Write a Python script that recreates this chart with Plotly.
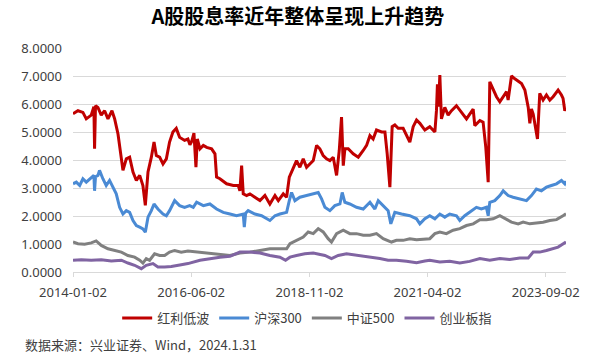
import plotly.graph_objects as go

# ---- data ----
hl_dates = ["2014-01-02","2014-02-08","2014-03-17","2014-04-11","2014-05-18","2014-06-07","2014-06-12","2014-06-19","2014-07-07","2014-08-01","2014-08-26","2014-09-20","2014-10-20","2014-11-09","2014-12-04","2014-12-29","2015-01-10","2015-02-04","2015-03-01","2015-03-26","2015-04-20","2015-05-15","2015-06-08","2015-06-26","2015-07-16","2015-08-10","2015-08-30","2015-09-16","2015-10-11","2015-11-05","2015-11-30","2015-12-24","2016-01-18","2016-02-12","2016-03-08","2016-04-14","2016-05-09","2016-05-24","2016-06-06","2016-06-23","2016-07-08","2016-07-18","2016-08-07","2016-09-01","2016-09-26","2016-11-02","2016-11-27","2016-12-09","2017-01-03","2017-02-22","2017-04-13","2017-05-20","2017-06-01","2017-06-14","2017-06-26","2017-07-21","2017-08-15","2017-09-21","2017-10-29","2017-12-05","2018-01-11","2018-02-18","2018-03-15","2018-04-21","2018-05-16","2018-06-05","2018-07-05","2018-07-29","2018-08-23","2018-09-17","2018-10-12","2018-11-06","2018-12-01","2018-12-26","2019-01-19","2019-02-13","2019-03-10","2019-04-04","2019-04-29","2019-05-24","2019-06-13","2019-06-30","2019-07-13","2019-07-25","2019-08-19","2019-09-25","2019-11-02","2019-12-09","2020-01-03","2020-01-28","2020-02-21","2020-03-17","2020-04-24","2020-05-19","2020-06-05","2020-06-25","2020-07-12","2020-08-01","2020-08-26","2020-10-02","2020-11-21","2020-12-16","2021-01-10","2021-02-04","2021-03-13","2021-04-19","2021-05-27","2021-06-08","2021-06-15","2021-06-23","2021-07-03","2021-07-15","2021-08-09","2021-09-03","2021-09-28","2021-11-04","2021-12-12","2022-01-18","2022-03-09","2022-03-21","2022-04-28","2022-05-22","2022-06-11","2022-06-29","2022-07-11","2022-08-05","2022-08-30","2022-09-24","2022-10-19","2022-11-13","2022-11-25","2022-12-20","2023-01-14","2023-02-08","2023-03-05","2023-03-30","2023-04-24","2023-05-06","2023-05-18","2023-05-31","2023-06-20","2023-07-02","2023-07-19","2023-08-13","2023-09-07","2023-10-02","2023-10-27","2023-12-03","2023-12-28","2024-01-09","2024-01-22","2024-01-31"]
hl_values = [5.65,5.76,5.70,5.47,5.60,5.90,4.40,5.94,5.88,5.60,5.76,5.47,5.76,5.47,4.93,4.10,3.63,4.04,4.10,3.57,3.27,3.45,3.09,2.38,3.57,4.10,4.64,4.16,4.10,3.86,4.04,4.64,5.00,5.13,4.81,4.70,4.75,4.54,4.66,4.96,3.74,4.75,4.40,4.52,4.45,4.40,4.22,3.39,3.33,3.15,3.09,3.09,2.90,3.80,2.79,2.73,2.79,2.67,2.55,2.73,2.43,2.73,2.55,2.79,2.67,3.39,3.74,3.98,3.74,4.04,3.74,3.86,3.98,4.52,4.40,4.16,4.04,3.98,4.10,3.45,4.34,5.53,3.80,4.40,4.40,4.22,4.10,4.34,4.52,4.87,4.75,5.07,5.00,5.00,4.22,3.03,5.19,5.25,5.13,5.13,4.64,5.19,5.43,5.31,5.07,5.19,5.00,5.78,6.70,5.90,7.03,5.47,5.88,5.60,5.76,5.94,5.70,5.47,5.82,5.23,5.41,5.35,4.46,3.21,6.79,6.50,6.26,6.08,6.26,6.44,6.14,7.00,6.90,6.82,6.73,6.50,5.88,5.31,5.82,5.64,5.05,4.75,6.38,6.14,6.32,6.14,6.26,6.50,6.32,6.20,5.76,5.85]

hs300_dates = ["2014-01-02","2014-01-27","2014-02-21","2014-03-17","2014-04-11","2014-05-18","2014-06-07","2014-06-12","2014-06-19","2014-07-07","2014-07-19","2014-08-13","2014-09-07","2014-10-02","2014-10-27","2014-11-21","2014-12-16","2015-01-10","2015-02-04","2015-03-01","2015-03-26","2015-04-20","2015-05-15","2015-06-08","2015-06-26","2015-07-16","2015-08-10","2015-08-30","2015-09-28","2015-11-05","2015-11-30","2015-12-24","2016-01-31","2016-03-08","2016-04-14","2016-05-22","2016-06-18","2016-07-13","2016-09-01","2016-10-20","2016-12-09","2017-01-28","2017-03-19","2017-05-07","2017-06-26","2017-07-04","2017-07-14","2017-08-02","2017-09-21","2017-11-10","2018-01-11","2018-02-18","2018-03-27","2018-05-16","2018-06-05","2018-06-22","2018-07-17","2018-08-23","2018-10-12","2018-12-01","2019-01-07","2019-02-01","2019-02-26","2019-04-04","2019-05-11","2019-06-18","2019-07-05","2019-07-25","2019-08-31","2019-10-20","2019-12-09","2020-01-28","2020-03-05","2020-03-30","2020-05-06","2020-06-12","2020-07-02","2020-08-01","2020-09-20","2020-11-21","2021-01-10","2021-02-04","2021-03-13","2021-04-19","2021-05-27","2021-07-03","2021-08-09","2021-09-15","2021-11-04","2021-11-29","2022-01-05","2022-02-11","2022-04-02","2022-05-09","2022-06-16","2022-06-29","2022-07-11","2022-08-17","2022-09-24","2022-10-19","2022-11-25","2023-01-01","2023-02-20","2023-04-11","2023-05-18","2023-06-24","2023-07-31","2023-09-07","2023-10-14","2023-11-21","2023-12-28","2024-01-22","2024-01-31"]
hs300_values = [3.15,3.21,3.09,3.33,3.21,3.39,3.45,2.90,3.40,3.45,3.63,3.33,3.09,3.27,3.03,2.79,2.31,2.07,2.19,2.13,1.84,1.66,1.60,1.54,1.42,1.96,2.19,2.43,2.25,2.07,2.01,2.19,2.55,2.37,2.31,2.37,2.31,2.49,2.37,2.43,2.25,2.13,2.07,2.01,2.07,1.60,2.10,2.19,2.07,2.01,1.84,2.01,2.07,2.13,2.55,2.84,2.55,2.67,2.73,2.79,2.84,2.61,2.31,2.19,2.37,2.43,2.84,2.49,2.43,2.31,2.25,2.49,2.25,2.55,2.37,2.19,1.72,2.13,2.07,2.01,1.90,1.72,1.90,2.01,1.90,2.07,1.96,2.07,2.01,1.84,2.01,2.13,2.31,2.25,2.31,2.01,2.49,2.55,2.73,2.90,2.73,2.67,2.61,2.55,2.73,2.96,2.90,3.03,3.09,3.15,3.27,3.15,3.25]

zz500_dates = ["2014-01-02","2014-02-08","2014-03-30","2014-05-18","2014-06-24","2014-08-01","2014-09-20","2014-11-09","2014-12-29","2015-02-16","2015-04-07","2015-05-15","2015-06-08","2015-07-03","2015-07-28","2015-09-03","2015-10-11","2015-11-17","2015-12-24","2016-01-31","2016-03-20","2016-05-09","2016-08-07","2016-10-20","2017-01-03","2017-03-19","2017-06-01","2017-08-15","2017-10-29","2018-01-11","2018-03-27","2018-05-16","2018-06-10","2018-07-29","2018-09-17","2018-10-24","2018-12-01","2019-01-07","2019-02-13","2019-03-22","2019-04-16","2019-05-24","2019-07-13","2019-08-31","2019-10-20","2019-12-09","2020-01-28","2020-03-17","2020-05-06","2020-07-07","2020-08-13","2020-10-02","2020-11-21","2021-01-10","2021-03-13","2021-04-19","2021-05-27","2021-07-03","2021-08-21","2021-10-10","2021-11-29","2022-01-18","2022-03-09","2022-04-28","2022-06-16","2022-08-05","2022-09-24","2022-10-31","2022-12-20","2023-02-08","2023-03-17","2023-05-06","2023-06-24","2023-08-13","2023-10-02","2023-11-21","2024-01-09","2024-01-31"]
zz500_values = [1.07,1.01,0.99,1.04,1.11,0.95,0.83,0.77,0.71,0.59,0.53,0.42,0.32,0.48,0.42,0.65,0.59,0.59,0.71,0.77,0.71,0.75,0.71,0.68,0.65,0.59,0.68,0.71,0.77,0.83,0.83,0.83,1.01,1.13,1.25,1.43,1.37,1.55,1.43,1.19,1.07,1.37,1.49,1.37,1.37,1.31,1.31,1.37,1.19,1.07,1.13,1.13,1.19,1.15,1.19,1.19,1.37,1.43,1.37,1.49,1.55,1.66,1.72,1.87,1.87,1.90,2.01,1.90,1.78,1.72,1.78,1.72,1.75,1.78,1.84,1.87,2.01,2.08]

cyb_dates = ["2014-01-02","2014-03-05","2014-05-18","2014-08-01","2014-10-15","2014-12-29","2015-02-16","2015-04-07","2015-05-27","2015-07-03","2015-08-22","2015-09-28","2015-11-17","2016-01-06","2016-03-20","2016-05-09","2016-08-07","2016-10-20","2017-01-03","2017-03-19","2017-06-01","2017-08-15","2017-10-29","2018-01-11","2018-03-27","2018-05-08","2018-06-10","2018-07-29","2018-09-29","2018-12-01","2019-01-07","2019-02-26","2019-04-16","2019-06-05","2019-08-06","2019-10-08","2019-12-09","2020-02-09","2020-04-11","2020-06-12","2020-08-13","2020-10-27","2021-01-10","2021-03-13","2021-04-19","2021-07-03","2021-09-15","2021-11-29","2022-02-11","2022-04-28","2022-07-11","2022-09-24","2022-12-07","2023-02-20","2023-04-24","2023-05-31","2023-07-19","2023-09-07","2023-10-27","2023-12-03","2024-01-22","2024-01-31"]
cyb_values = [0.42,0.44,0.42,0.44,0.39,0.42,0.32,0.24,0.12,0.24,0.30,0.18,0.18,0.20,0.26,0.30,0.42,0.48,0.53,0.56,0.71,0.71,0.68,0.59,0.53,0.42,0.53,0.59,0.65,0.68,0.65,0.59,0.48,0.59,0.65,0.61,0.56,0.53,0.48,0.42,0.42,0.38,0.33,0.39,0.42,0.36,0.38,0.32,0.38,0.48,0.42,0.48,0.45,0.50,0.50,0.71,0.71,0.77,0.83,0.89,1.04,1.08]

series_names = ["红利低波", "沪深300", "中证500", "创业板指"]
tick_dates = ["2014-01-02", "2016-06-02", "2018-11-02", "2021-04-02", "2023-09-02"]
y_ticks = [0, 1, 2, 3, 4, 5, 6, 7, 8]

colors = ["#C00000", "#4A8AD4", "#808080", "#8064A2"]
FONT = "Noto Sans, Noto Sans CJK SC, sans-serif"
CJK = "Noto Sans CJK SC, sans-serif"

fig = go.Figure()
for name, xs, ys, c in zip(series_names,
                           [hl_dates, hs300_dates, zz500_dates, cyb_dates],
                           [hl_values, hs300_values, zz500_values, cyb_values],
                           colors):
    fig.add_trace(go.Scatter(x=xs, y=ys, mode="lines", name=name,
                             line=dict(color=c, width=3)))

fig.update_layout(
    template="none",
    width=590, height=357,
    margin=dict(l=73, r=24, t=48, b=85, autoexpand=False),
    paper_bgcolor="white", plot_bgcolor="white",
    font=dict(family=FONT, size=13, color="#404040"),
    title=dict(text="<b>A股股息率近年整体呈现上升趋势</b>",
               x=0.505, xref="container", xanchor="center",
               y=1 - 17 / 357, yref="container", yanchor="middle",
               font=dict(family=CJK, size=20, color="#000000")),
    legend=dict(orientation="h", x=0.475, xanchor="center",
                y=1 - 318 / 357, yref="container", yanchor="middle",
                font=dict(family=CJK, size=13, color="#404040"),
                itemwidth=30, tracegroupgap=0, bgcolor="rgba(0,0,0,0)"),
    showlegend=True,
)
fig.update_xaxes(
    type="date", range=["2014-01-02", "2024-01-31"], automargin=False,
    tickmode="array", tickvals=tick_dates, ticktext=tick_dates,
    showgrid=False, showline=True, linecolor="#D9D9D9", linewidth=1,
    ticks="outside", ticklen=4, tickcolor="#D9D9D9",
    tickfont=dict(size=13, color="#404040"), ticklabelstandoff=4,
    zeroline=False,
)
fig.update_yaxes(
    range=[0, 8], tickmode="array", tickvals=y_ticks, automargin=False,
    tickformat=".4f", showgrid=True, gridcolor="#D9D9D9", gridwidth=1,
    zeroline=False, showline=False, ticks="",
    tickfont=dict(size=13, color="#404040"), ticklabelstandoff=10,
)
fig.add_annotation(text="数据来源：兴业证券、Wind，2024.1.31",
                   xref="paper", yref="paper",
                   x=(23 - 73) / 493, y=-(344 - 272) / 224,
                   xanchor="left", yanchor="middle", showarrow=False,
                   font=dict(family=CJK, size=13, color="#404040"))

fig.write_html("out.html", config={"displayModeBar": False},
               post_script="document.body.style.margin='0';document.body.style.padding='0';")
